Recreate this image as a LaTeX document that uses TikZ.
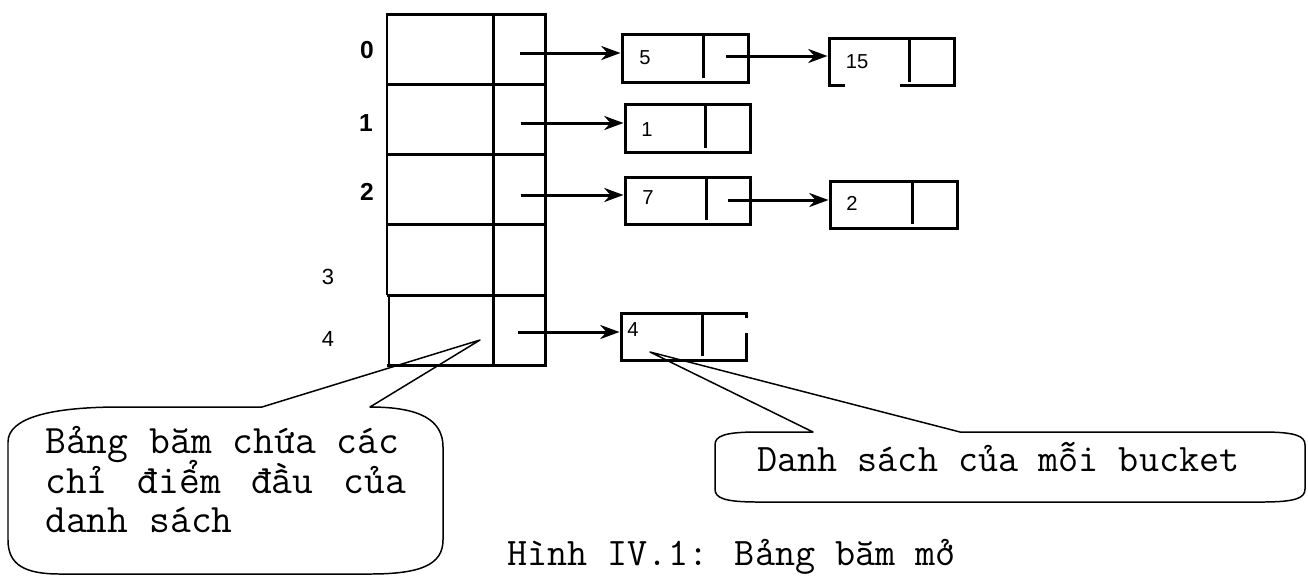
\documentclass[tikz,border=0pt]{standalone}
\usepackage{fontspec}
\setmainfont{Liberation Sans}
\newfontfamily\sansfnt{Liberation Sans}
\usetikzlibrary{arrows.meta,fit}
\begin{document}
\begin{tikzpicture}[x=0.02cm,y=-0.02cm,
  thk/.style={line width=1.7pt},
  thn/.style={line width=0.85pt},
  lbox/.style={draw, line width=1.7pt, inner sep=0pt},
  lfree/.style={inner sep=0pt, outer sep=0.85pt},
  arr/.style={line width=1.7pt, -{Stealth[length=11pt,width=8pt]}},
  num/.style={font=\sansfnt\fontsize{11.5}{13}\selectfont, inner sep=0pt},
  idxb/.style={font=\sansfnt\bfseries\fontsize{14}{16}\selectfont, inner sep=0pt},
  idx/.style={font=\sansfnt\fontsize{12.5}{14}\selectfont, inner sep=0pt},
  callA/.style={font=\ttfamily\fontsize{23}{26}\selectfont, inner sep=0pt, anchor=base west},
  callB/.style={font=\ttfamily\fontsize{22.2}{26}\selectfont, inner sep=0pt, anchor=base west},
]
\useasboundingbox (0,0) rectangle (1308,576);
\fill[white] (0,0) rectangle (1308,576);

% ---------- hash table ----------
\draw[thk] (387,295) -- (387,14) -- (545,14) -- (545,365) -- (387,365);
\draw[thn] (389,295) -- (389,365);
\foreach \yy in {84,154,224,295} \draw[thk] (387,\yy) -- (545,\yy);
\draw[thk] (493,14) -- (493,365);

\node[idxb] (l0) at (367,50) {0};
\node[idxb] (l1) at (366,123) {1};
\node[idxb] (l2) at (367,192) {2};
\node[idx]  (l3) at (328,277) {3};
\node[idx]  (l4) at (328,339) {4};

\coordinate (p0) at (520,53);
\coordinate (p1) at (521,123);
\coordinate (p2) at (521,195);
\coordinate (p4) at (518,332);

% ---------- list nodes ----------
\node[lbox, fit={(622,34) (748,82)}] (n5) {};
\draw[thk] (703,34) -- (703,78);
\node[num] (t5) at (645,58) {5};

\node[lfree, fit={(829,38) (954,85)}] (n15) {};
\draw[thk] (845,85) -- (829,85) -- (829,38) -- (954,38) -- (954,85) -- (900,85);
\draw[thk] (909,38) -- (909,82);
\node[num] (t15) at (857,62) {15};

\node[lbox, fit={(625,104) (750,152)}] (n1) {};
\draw[thk] (705,104) -- (705,148);
\node[num] (t1) at (647,130) {1};

\node[lbox, fit={(625,177) (750,224)}] (n7) {};
\draw[thk] (706,177) -- (706,220);
\node[num] (t7) at (648,198) {7};

\node[lbox, fit={(830,181) (957,228)}] (n2) {};
\draw[thk] (912,181) -- (912,224);
\node[num] (t2) at (852,203) {2};

\node[lfree, fit={(621,313) (746,360)}] (n4) {};
\draw[thk] (746,333) -- (746,360) -- (621,360) -- (621,313) -- (746,313) -- (746,318);
\draw[thk] (702,313) -- (702,356);
\node[num] (t4) at (633,330) {4};

\coordinate (q5) at (726,56);
\coordinate (q7) at (728,200);

% ---------- arrows ----------
\draw[arr] (p0) -- (p0 -| n5.west);
\draw[arr] (p1) -- (p1 -| n1.west);
\draw[arr] (p2) -- (p2 -| n7.west);
\draw[arr] (p4) -- (p4 -| n4.west);
\draw[arr] (q5) -- (q5 -| n15.west);
\draw[arr] (q7) -- (q7 -| n2.west);

% ---------- callout 1 ----------
\coordinate (tip1) at (480,340);
\draw[thn, line join=round] (262,407) -- (tip1) -- (370,407)
  .. controls (420,407) and (443,420) .. (443,447)
  -- (443,540) .. controls (443,565) and (420,574) .. (370,574)
  -- (60,574) .. controls (25,574) and (8,565) .. (8,540)
  -- (8,442) .. controls (8,418) and (50,407) .. (120,407) -- cycle;
\node[callA] (c1a) at (45,453) {Bảng băm chứa các};
\node[callA] (c1b) at (45,493) {\makebox[8.925em][s]{chỉ\hfill điểm\hfill đầu\hfill của}};
\node[callA] (c1c) at (45,532) {danh sách};

% ---------- callout 2 ----------
\coordinate (tip2) at (650,352);
\draw[thn, line join=round] (813,432) -- (tip2) -- (960,432)
  -- (1262,432) .. controls (1296,432) and (1305,436) .. (1305,445)
  -- (1305,489) .. controls (1305,498) and (1296,502) .. (1262,502)
  -- (758,502) .. controls (724,502) and (715,498) .. (715,489)
  -- (715,445) .. controls (715,436) and (724,432) .. (758,432) -- cycle;
\node[callB] (c2) at (757,471) {Danh sách của mỗi bucket};

% ---------- caption ----------
\node[callB] (cap) at (507,565) {Hình IV.1: Bảng băm mở};
\end{tikzpicture}
\end{document}
